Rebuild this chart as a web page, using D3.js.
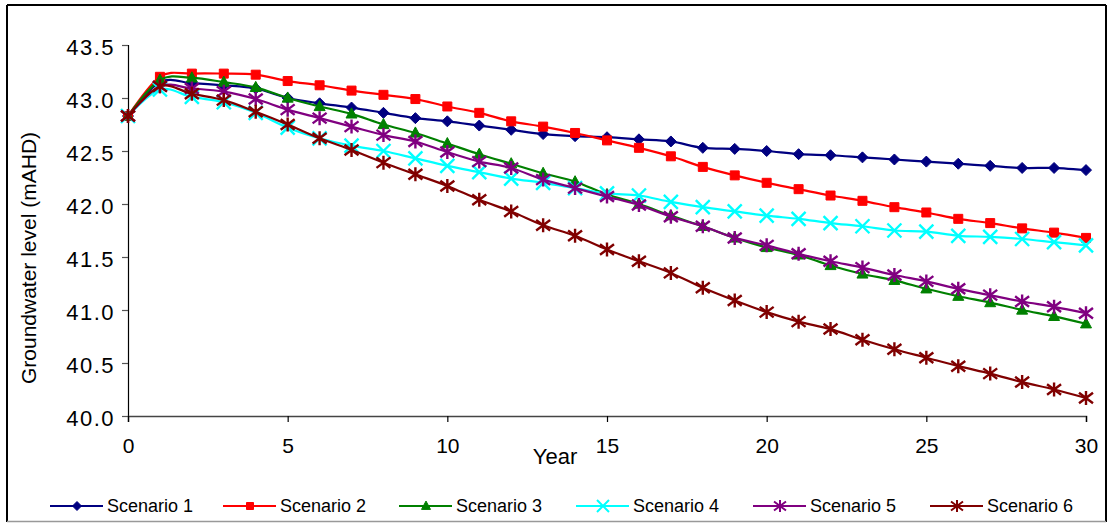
<!DOCTYPE html>
<html>
<head>
<meta charset="utf-8">
<script src="https://cdn.jsdelivr.net/npm/d3@7"></script>
<style>
  html, body { margin: 0; padding: 0; background: #fff; }
  svg { display: block; font-family: "Liberation Sans", Arial, sans-serif; }
</style>
</head>
<body>
<svg id="chart" width="1112" height="523"></svg>
<script>
const years = [0,1,2,3,4,5,6,7,8,9,10,11,12,13,14,15,16,17,18,19,20,21,22,23,24,25,26,27,28,29,30];
const seriesNames = ["Scenario 1","Scenario 2","Scenario 3","Scenario 4","Scenario 5","Scenario 6"];
const scenario1 = [42.83,43.15,43.14,43.12,43.09,43.00,42.95,42.91,42.86,42.81,42.78,42.74,42.70,42.66,42.64,42.63,42.61,42.59,42.53,42.52,42.50,42.47,42.46,42.44,42.42,42.40,42.38,42.36,42.34,42.34,42.32];
const scenario2 = [42.83,43.20,43.23,43.23,43.22,43.16,43.12,43.07,43.03,42.99,42.92,42.86,42.78,42.73,42.67,42.60,42.53,42.45,42.35,42.27,42.20,42.14,42.08,42.03,41.97,41.92,41.86,41.82,41.77,41.73,41.68];
const scenario3 = [42.83,43.17,43.19,43.15,43.10,43.00,42.92,42.85,42.75,42.67,42.57,42.47,42.38,42.29,42.21,42.09,42.00,41.89,41.79,41.68,41.59,41.52,41.42,41.34,41.28,41.20,41.13,41.07,41.00,40.94,40.87];
const scenario4 = [42.83,43.08,43.01,42.96,42.86,42.72,42.62,42.55,42.50,42.43,42.36,42.30,42.24,42.20,42.15,42.10,42.08,42.02,41.97,41.93,41.89,41.86,41.82,41.79,41.75,41.74,41.70,41.69,41.67,41.64,41.61];
const scenario5 = [42.83,43.11,43.09,43.06,42.99,42.89,42.81,42.73,42.65,42.59,42.49,42.40,42.34,42.23,42.15,42.07,41.99,41.88,41.79,41.68,41.61,41.53,41.46,41.40,41.33,41.27,41.20,41.14,41.08,41.03,40.97];
const scenario6 = [42.83,43.11,43.04,42.98,42.87,42.75,42.62,42.51,42.39,42.28,42.17,42.04,41.93,41.80,41.70,41.57,41.46,41.35,41.21,41.09,40.98,40.89,40.82,40.72,40.63,40.55,40.47,40.40,40.32,40.25,40.17];
const xTicks = [0,5,10,15,20,25,30];
const yTicks = [40.0,40.5,41.0,41.5,42.0,42.5,43.0,43.5];

const colors = ["#000080","#FF0000","#008000","#00FFFF","#800080","#800000"];
const markers = ["diamond","square","triangle","x","star","star"];
const allSeries = [scenario1,scenario2,scenario3,scenario4,scenario5,scenario6];

const svg = d3.select("#chart");

// outer frame
svg.append("line").attr("x1",7).attr("y1",5).attr("x2",1106).attr("y2",5).attr("stroke","#000").attr("stroke-width",2);
svg.append("line").attr("x1",7).attr("y1",5).attr("x2",7).attr("y2",522).attr("stroke","#000").attr("stroke-width",2);
svg.append("line").attr("x1",1106).attr("y1",5).attr("x2",1106).attr("y2",522).attr("stroke","#000").attr("stroke-width",2);
svg.append("line").attr("x1",7).attr("y1",521.5).attr("x2",1106).attr("y2",521.5).attr("stroke","#999").attr("stroke-width",1.5);

const x = d3.scaleLinear().domain([0,30]).range([128,1086]);
const y = d3.scaleLinear().domain([40,43.5]).range([416,45]);

// y axis
const yAxis = svg.append("g").attr("transform","translate(128,0)")
  .call(d3.axisLeft(y).tickValues(yTicks).tickFormat(d3.format(".1f")).tickSize(6).tickPadding(7));
yAxis.select(".domain").attr("stroke","#000").attr("stroke-width",1.2);
yAxis.selectAll(".tick line").attr("stroke","#555").attr("stroke-width",1.2);
yAxis.selectAll(".tick text").attr("font-size",22).attr("fill","#000")
  .attr("font-family","'Liberation Sans', Arial, sans-serif")
  .style("letter-spacing","1.5px").attr("dy","0.45em");

// x axis
const xAxis = svg.append("g").attr("transform","translate(0,416)")
  .call(d3.axisBottom(x).tickValues(xTicks).tickFormat(d3.format("d")).tickSize(6).tickPadding(16));
xAxis.select(".domain").attr("stroke","#444").attr("stroke-width",1.5);
xAxis.selectAll(".tick line").attr("stroke","#000").attr("stroke-width",1.2);
xAxis.selectAll(".tick text").attr("font-size",21).attr("fill","#000")
  .attr("font-family","'Liberation Sans', Arial, sans-serif");

// axis titles
svg.append("text").attr("x",555).attr("y",464).attr("text-anchor","middle")
  .attr("font-size",22).text("Year");
svg.append("text").attr("transform","translate(36,258) rotate(-90)").attr("text-anchor","middle")
  .attr("font-size",21).text("Groundwater level (mAHD)");

function markerPath(type, s) {
  if (type === "diamond") return `M0,${-s}L${s},0L0,${s}L${-s},0Z`;
  if (type === "square") return `M${-s},${-s}H${s}V${s}H${-s}Z`;
  if (type === "triangle") return `M0,${-s*1.1}L${s},${s*0.75}L${-s},${s*0.75}Z`;
  if (type === "x") return `M${-s},${-s}L${s},${s}M${-s},${s}L${s},${-s}`;
  if (type === "star") return `M${-s},${-s*0.75}L${s},${s*0.75}M${-s},${s*0.75}L${s},${-s*0.75}M0,${-s}L0,${s}`;
}
const markerSize = {diamond:5.5, square:4.5, triangle:5.5, x:7, star:7};

const line = d3.line().x((d,i)=>x(years[i])).y(d=>y(d)).curve(d3.curveCatmullRom.alpha(0));

allSeries.forEach((vals, si) => {
  const g = svg.append("g");
  g.append("path").datum(vals).attr("d", line).attr("fill","none")
    .attr("stroke", colors[si]).attr("stroke-width", 2.2);
  const type = markers[si];
  const filled = (type === "diamond" || type === "square" || type === "triangle");
  g.selectAll("path.m").data(vals).join("path").attr("class","m")
    .attr("transform",(d,i)=>`translate(${x(years[i])},${y(d)})`)
    .attr("d", markerPath(type, markerSize[type]))
    .attr("fill", filled ? colors[si] : "none")
    .attr("stroke", colors[si]).attr("stroke-width", filled ? 1 : 2.4);
});

// legend
const legendX = [50, 223, 399, 576, 753, 930];
const legY = 506;
seriesNames.forEach((name, si) => {
  const g = svg.append("g").attr("transform", `translate(${legendX[si]},${legY})`);
  g.append("line").attr("x1",0).attr("x2",53).attr("y1",0).attr("y2",0)
    .attr("stroke",colors[si]).attr("stroke-width",2.2);
  const type = markers[si];
  const filled = (type === "diamond" || type === "square" || type === "triangle");
  const s = {diamond:4.5, square:3.5, triangle:4.5, x:6, star:6}[type];
  g.append("path").attr("transform","translate(27,0)").attr("d", markerPath(type, s))
    .attr("fill", filled ? colors[si] : "none").attr("stroke", colors[si])
    .attr("stroke-width", filled ? 1 : 2);
  g.append("text").attr("x",57).attr("y",0).attr("dy","0.35em")
    .attr("font-size",18).attr("fill","#000").text(name);
});
</script>
</body>
</html>
